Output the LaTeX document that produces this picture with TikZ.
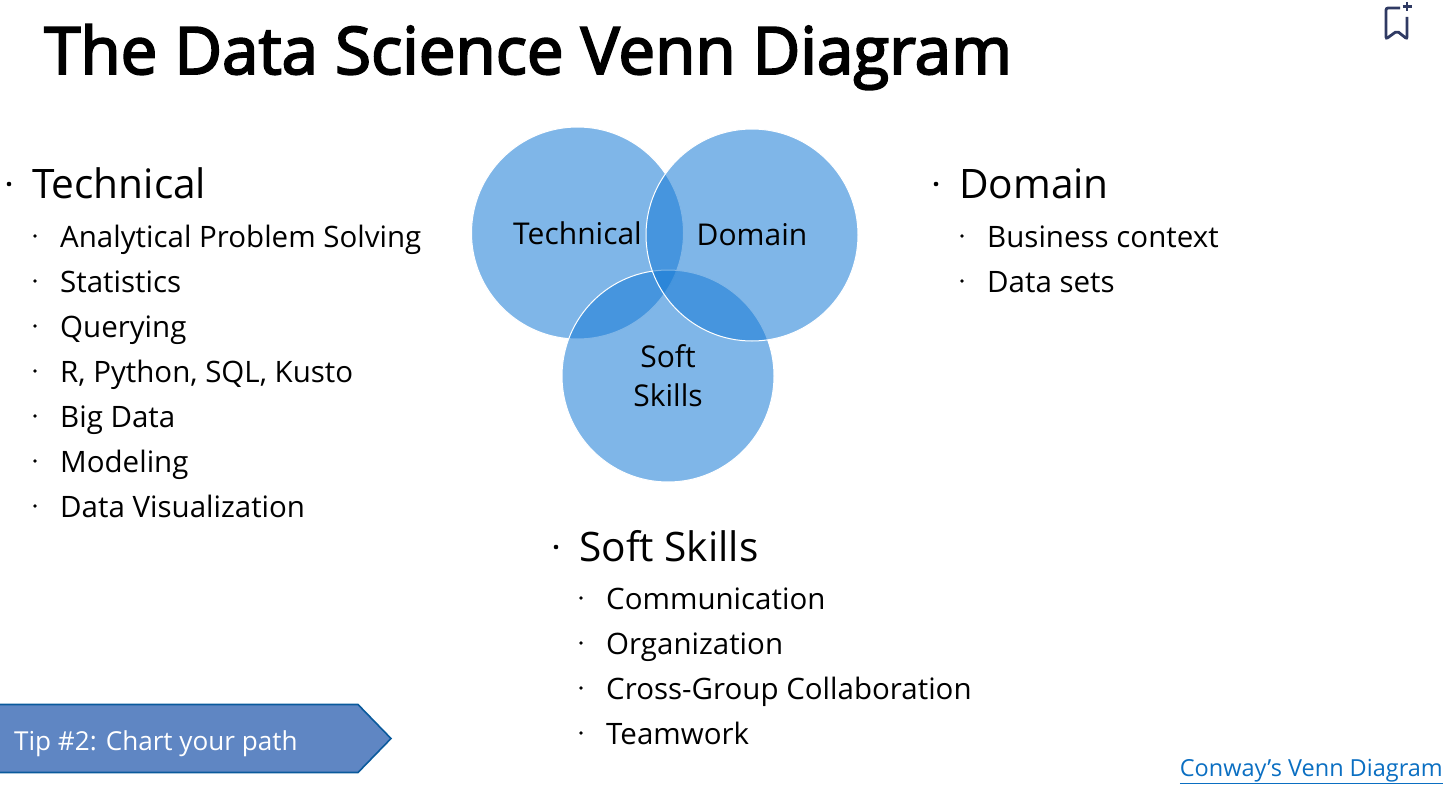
\documentclass[tikz,border=0pt]{standalone}
\usepackage{fontspec}
\setmainfont{Open Sans}
\newfontfamily\titlefont[FakeBold=3]{Open Sans}
\usepackage{tikz}
\usetikzlibrary{positioning}

\definecolor{vennblue}{rgb}{.087,.48,.836}
\definecolor{tipfill}{HTML}{5F86C3}
\definecolor{tipline}{HTML}{0A5A9C}
\definecolor{iconblue}{HTML}{2F3A63}
\definecolor{linkblue}{HTML}{0B6FC2}

\tikzset{
  venn/.style={circle,draw=white,line width=1pt,fill=vennblue,fill opacity=.55,text opacity=1,
        minimum size=212,inner sep=0pt,align=center,font=\fontsize{30}{39}\selectfont},
  bulletdot/.style={circle,fill=black,inner sep=0pt},
  head/.style={anchor=base west,inner sep=0pt,text height=38,text depth=10,font=\fontsize{40.6}{46}\selectfont,
        label={[bulletdot,minimum size=4.6,label distance=20.5]left:{}}},
  sub/.style={anchor=base west,inner sep=0pt,text height=30,text depth=8,font=\fontsize{29.5}{34}\selectfont,
        label={[bulletdot,minimum size=3.6,label distance=23]left:{}}}
}

\begin{document}
\begin{tikzpicture}[x=1pt,y=-1pt]

\useasboundingbox (0,0) rectangle (1456,792);

\node [anchor=base west,inner sep=0pt,font=\fontsize{65.5}{78}\titlefont] (title) at (44,74) {The Data Science Venn Diagram};

% three circles
\node [venn] (technical) at (577.5,233) {Technical};
\node [venn] (softskills) at (668,376) {Soft\\Skills};
\node [venn] (domain) at (752,235) {Domain};

% left list
\node [head] (techhead) at (32,198) {Technical};
\node [sub] (analytical) at (60,247) {Analytical Problem Solving};
\node [sub] (statistics) at (60,292) {Statistics};
\node [sub] (querying) at (60,337) {Querying};
\node [sub] (languages) at (60,382) {R, Python, SQL, Kusto};
\node [sub] (bigdata) at (60,427) {Big Data};
\node [sub] (modeling) at (60,472) {Modeling};
\node [sub] (dataviz) at (60,517) {Data Visualization};

% right list
\node [head] (domainhead) at (959,198) {Domain};
\node [sub] (business) at (987,247) {Business context};
\node [sub] (datasets) at (987,292) {Data sets};

% bottom list
\node [head] (softhead) at (579,561) {Soft Skills};
\node [sub] (communication) at (606,609) {Communication};
\node [sub] (organization) at (606,654) {Organization};
\node [sub] (crossgroup) at (606,699) {Cross-Group Collaboration};
\node [sub] (teamwork) at (606,744) {Teamwork};

% tip arrow
\draw [tipline,fill=tipfill,line width=1.6pt] (-3,704.5) -- (358,704.5) -- (391,738.5) -- (358,772.5) -- (-3,772.5) -- cycle;
\node [anchor=base west,inner sep=0pt,white,font=\fontsize{26.1}{32}\selectfont] (tip) at (14,750) {Tip \#2: Chart your path};

\node [anchor=base east,inner sep=0pt,linkblue,font=\fontsize{23.5}{30}\selectfont] (conway) at (1443,776) {\underline{Conway’s Venn Diagram}};

% bookmark
\draw [iconblue,line width=2.8pt,rounded corners=2pt] (1400,8) -- (1386,8) -- (1386,39) -- (1397,31) -- (1407,39) -- (1407,17);
\draw [iconblue,line width=2.6pt] (1402.5,6.5) -- (1411.5,6.5) (1407,2) -- (1407,11);
\end{tikzpicture}
\end{document}
